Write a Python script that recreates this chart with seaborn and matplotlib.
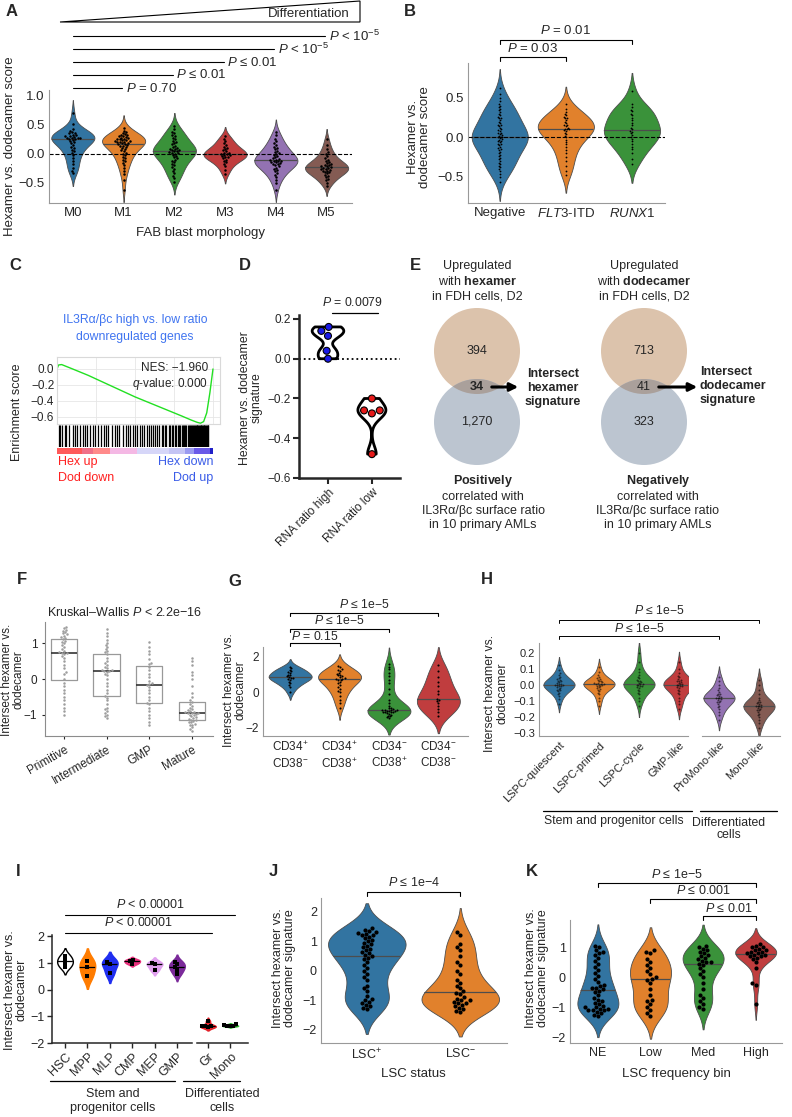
import warnings
import numpy as np
import pandas as pd
import matplotlib
matplotlib.use("Agg")
import matplotlib.pyplot as plt
import seaborn as sns
from matplotlib.patches import Circle, Polygon

warnings.filterwarnings("ignore")

# ---------------- data ----------------
# A: FAB blast morphology
fab_names = ["M0", "M1", "M2", "M3", "M4", "M5"]
fab_m0 = [0.70, 0.52, 0.42, 0.40, 0.38, 0.36, 0.35, 0.33, 0.32, 0.31, 0.30, 0.29, 0.28, 0.28, 0.27, 0.27,
          0.26, 0.25, 0.24, 0.22, 0.20, 0.18, 0.15, 0.12, 0.10, 0.07, 0.04, 0.01, -0.03, -0.08, -0.13,
          -0.18, -0.24, -0.29, -0.33]
fab_m1 = [0.45, 0.40, 0.38, 0.36, 0.34, 0.33, 0.32, 0.31, 0.30, 0.29, 0.28, 0.27, 0.26, 0.25, 0.25, 0.24,
          0.23, 0.22, 0.22, 0.21, 0.20, 0.20, 0.19, 0.18, 0.17, 0.16, 0.15, 0.14, 0.13, 0.12, 0.10, 0.08,
          0.06, 0.04, 0.02, 0.0, -0.02, -0.05, -0.08, -0.10, -0.13, -0.16, -0.20, -0.25, -0.30, -0.35,
          -0.45, -0.62]
fab_m2 = [0.48, 0.42, 0.38, 0.35, 0.32, 0.30, 0.28, 0.25, 0.22, 0.20, 0.18, 0.16, 0.14, 0.12, 0.10, 0.09,
          0.08, 0.07, 0.06, 0.05, 0.04, 0.03, 0.02, 0.01, 0.0, -0.02, -0.04, -0.06, -0.08, -0.10, -0.12,
          -0.15, -0.18, -0.20, -0.23, -0.26, -0.30, -0.34, -0.38, -0.42, -0.48]
fab_m3 = [0.30, 0.26, 0.22, 0.18, 0.15, 0.12, 0.10, 0.08, 0.06, 0.04, 0.02, 0.01, 0.0, -0.01, -0.02,
          -0.03, -0.04, -0.05, -0.06, -0.08, -0.10, -0.12, -0.15, -0.18, -0.22, -0.28, -0.35]
fab_m4 = [0.38, 0.32, 0.26, 0.22, 0.18, 0.15, 0.12, 0.10, 0.08, 0.05, 0.03, 0.01, 0.0, -0.02, -0.04,
          -0.06, -0.08, -0.09, -0.10, -0.11, -0.12, -0.12, -0.13, -0.14, -0.15, -0.16, -0.17, -0.18,
          -0.20, -0.22, -0.24, -0.26, -0.28, -0.30, -0.33, -0.36, -0.40, -0.45, -0.50, -0.62]
fab_m5 = [0.25, 0.15, 0.08, 0.03, 0.0, -0.04, -0.08, -0.10, -0.12, -0.14, -0.16, -0.18, -0.19, -0.20,
          -0.21, -0.22, -0.23, -0.24, -0.25, -0.26, -0.27, -0.28, -0.29, -0.30, -0.31, -0.32, -0.34,
          -0.36, -0.38, -0.40, -0.43, -0.46, -0.50, -0.55]
fab_scores = [fab_m0, fab_m1, fab_m2, fab_m3, fab_m4, fab_m5]
fab_pvals = ["$P$ = 0.70", "$P$ ≤ 0.01", "$P$ ≤ 0.01", "$P$ < 10$^{-5}$", "$P$ < 10$^{-5}$"]

# B: mutation status
mut_names = ["Negative", "FLT3-ITD", "RUNX1"]
mut_labels = ["Negative", "$\\mathit{FLT3}$-ITD", "$\\mathit{RUNX1}$"]
mut_neg = [0.62, 0.55, 0.50, 0.46, 0.42, 0.40, 0.38, 0.36, 0.34, 0.32, 0.30, 0.28, 0.26, 0.25, 0.24, 0.22,
           0.20, 0.18, 0.16, 0.15, 0.14, 0.12, 0.10, 0.09, 0.08, 0.06, 0.05, 0.04, 0.03, 0.02, 0.01, 0.0,
           0.0, -0.01, -0.02, -0.03, -0.04, -0.05, -0.06, -0.08, -0.09, -0.10, -0.12, -0.14, -0.15, -0.16,
           -0.18, -0.20, -0.22, -0.24, -0.26, -0.28, -0.30, -0.32, -0.34, -0.36, -0.38, -0.40, -0.42,
           -0.46, -0.50, -0.56]
mut_flt3 = [0.42, 0.36, 0.32, 0.30, 0.28, 0.26, 0.25, 0.24, 0.22, 0.20, 0.18, 0.16, 0.15, 0.14, 0.12, 0.11,
            0.10, 0.10, 0.09, 0.08, 0.06, 0.04, 0.02, 0.0, -0.03, -0.06, -0.09, -0.12, -0.16, -0.20,
            -0.25, -0.30, -0.36, -0.42, -0.48]
mut_runx1 = [0.58, 0.42, 0.38, 0.35, 0.33, 0.30, 0.28, 0.25, 0.22, 0.18, 0.15, 0.12, 0.10, 0.08, 0.07,
             0.05, 0.03, 0.0, -0.02, -0.05, -0.08, -0.12, -0.15, -0.20, -0.28, -0.34]
mut_scores = [mut_neg, mut_flt3, mut_runx1]

# C: GSEA running enrichment score
es_pos = [0.0, 0.01, 0.03, 0.10, 0.20, 0.30, 0.40, 0.50, 0.60, 0.70, 0.80, 0.86, 0.90, 0.92, 0.94,
          0.96, 0.98, 1.0]
es_val = [0.0, 0.05, 0.055, 0.0, -0.08, -0.17, -0.26, -0.35, -0.43, -0.51, -0.59, -0.64, -0.67, -0.68,
          -0.66, -0.55, -0.30, 0.0]
hit_pos = [0.01, 0.02, 0.035, 0.05, 0.06, 0.08, 0.10, 0.115, 0.13, 0.15, 0.165, 0.18, 0.19, 0.21, 0.23,
           0.245, 0.26, 0.28, 0.30, 0.315, 0.33, 0.35, 0.37, 0.385, 0.40, 0.42, 0.44, 0.455, 0.47, 0.49,
           0.50, 0.515, 0.53, 0.545, 0.56, 0.575, 0.59, 0.60, 0.615, 0.63, 0.64, 0.655, 0.67, 0.68, 0.69,
           0.70, 0.715, 0.725, 0.735, 0.745, 0.755, 0.765, 0.775, 0.785, 0.79, 0.80, 0.81, 0.815, 0.82,
           0.83, 0.84, 0.845, 0.85, 0.86, 0.865, 0.87, 0.88, 0.885, 0.89, 0.895, 0.90, 0.905, 0.91, 0.915,
           0.92, 0.925, 0.93, 0.935, 0.94, 0.945, 0.95, 0.955, 0.96, 0.965, 0.97]
bar_edges = [0.0, 0.16, 0.23, 0.34, 0.51, 0.72, 0.82, 0.88, 0.98, 1.0]
bar_colors = ["#ff5a5a", "#f07088", "#ff8a8a", "#f4b8e4", "#d6d6f8", "#c4c4f4", "#9a9af0", "#6a5ae8",
              "#2020c8"]

# D: RNA ratio groups
rna_names = ["RNA ratio high", "RNA ratio low"]
rna_high = [0.16, 0.14, 0.115, 0.04, 0.0]
rna_low = [-0.20, -0.26, -0.275, -0.26, -0.48]

# E: Venn counts (top only, overlap, bottom only)
hex_counts = ["394", "34", "1,270"]
dod_counts = ["713", "41", "323"]

# F: grade groups
grade_names = ["Primitive", "Intermediate", "GMP", "Mature"]
grade_prim = [1.45, 1.42, 1.38, 1.35, 1.32, 1.28, 1.25, 1.22, 1.18, 1.15, 1.12, 1.08, 1.05, 1.0, 0.95, 0.9,
              0.85, 0.8, 0.76, 0.74, 0.72, 0.7, 0.65, 0.6, 0.5, 0.4, 0.3, 0.2, 0.14, 0.0, -0.1, -0.2, -0.3,
              -0.4, -0.5, -0.6, -0.7, -0.8, -0.9, -1.0]
grade_inter = [1.4, 1.3, 1.2, 1.1, 1.0, 0.95, 0.9, 0.85, 0.8, 0.76, 0.7, 0.6, 0.5, 0.45, 0.4, 0.35, 0.3, 0.26,
               0.24, 0.22, 0.22, 0.2, 0.15, 0.1, 0.0, -0.1, -0.2, -0.3, -0.4, -0.48, -0.52, -0.6, -0.7,
               -0.8, -0.85, -0.9, -0.95, -1.0, -1.05, -1.1]
grade_gmp = [1.05, 0.9, 0.8, 0.7, 0.55, 0.45, 0.42, 0.35, 0.25, 0.15, 0.05, -0.05, -0.12, -0.15, -0.18,
             -0.22, -0.3, -0.4, -0.5, -0.6, -0.66, -0.7, -0.8, -0.9, -1.0, -1.1, -1.2, -1.3]
grade_mature = [0.6, 0.5, 0.4, 0.2, 0.1, 0.0, -0.2, -0.4, -0.5, -0.6, -0.65, -0.7, -0.75, -0.8, -0.85,
                -0.88, -0.9, -0.92, -0.94, -0.95, -0.95, -0.96, -0.98, -1.0, -1.02, -1.05, -1.08, -1.1,
                -1.12, -1.14, -1.16, -1.18, -1.2, -1.22, -1.25, -1.28, -1.3, -1.35, -1.4, -1.45]
grade_scores = [grade_prim, grade_inter, grade_gmp, grade_mature]

# G: CD34/CD38 fractions
cd_names = ["CD34+CD38-", "CD34+CD38+", "CD34-CD38+", "CD34-CD38-"]
cd_labels = ["CD34$^{+}$\nCD38$^{-}$", "CD34$^{+}$\nCD38$^{+}$", "CD34$^{-}$\nCD38$^{+}$",
             "CD34$^{-}$\nCD38$^{-}$"]
cd_pn = [1.45, 1.35, 1.28, 1.2, 1.15, 1.1, 1.0, 0.95, 0.9, 0.85, 0.82, 0.8, 0.75, 0.7, 0.6, 0.5, 0.4, 0.3, 0.0]
cd_pp = [1.5, 1.4, 1.3, 1.25, 1.2, 1.1, 1.05, 1.0, 0.95, 0.9, 0.85, 0.8, 0.78, 0.75, 0.72, 0.7, 0.6, 0.5,
         0.4, 0.3, 0.2, 0.1, 0.0, -0.2, -0.4, -0.6, -0.9]
cd_np = [1.6, 1.45, 1.3, 1.1, 0.9, 0.7, 0.5, 0.2, -0.1, -0.4, -0.6, -0.75, -0.85, -0.9, -0.95, -0.98,
         -1.0, -1.0, -1.0, -1.02, -1.05, -1.05, -1.08, -1.1, -1.1, -1.12, -1.15, -1.2, -1.25, -1.3,
         -1.35, -1.4, -1.45]
cd_nn = [1.55, 1.2, 0.85, 0.6, 0.35, 0.1, -0.1, -0.35, -0.42, -0.5, -0.6, -0.75, -0.95, -1.1, -1.3]
cd_scores = [cd_pn, cd_pp, cd_np, cd_nn]

# H: single-cell states
state_names = ["LSPC-quiescent", "LSPC-primed", "LSPC-cycle", "GMP-like", "ProMono-like", "Mono-like"]
state_q = [0.12, 0.09, 0.07, 0.06, 0.05, 0.04, 0.035, 0.03, 0.025, 0.02, 0.015, 0.01, 0.006, 0.003, 0.0,
           0.0, -0.003, -0.006, -0.01, -0.015, -0.02, -0.025, -0.03, -0.035, -0.04, -0.05, -0.06, -0.07,
           -0.09, -0.12]
state_p = [0.11, 0.08, 0.06, 0.05, 0.04, 0.035, 0.03, 0.025, 0.02, 0.015, 0.012, 0.01, 0.007, 0.004,
           0.002, 0.0, -0.003, -0.007, -0.01, -0.015, -0.02, -0.025, -0.03, -0.04, -0.05, -0.06, -0.08,
           -0.10, -0.13]
state_c = [0.20, 0.14, 0.10, 0.08, 0.06, 0.05, 0.04, 0.03, 0.025, 0.02, 0.015, 0.01, 0.005, 0.002, 0.0,
           -0.003, -0.006, -0.01, -0.015, -0.02, -0.03, -0.04, -0.05, -0.06, -0.08, -0.10, -0.13]
state_g = [0.14, 0.10, 0.07, 0.055, 0.045, 0.035, 0.03, 0.025, 0.02, 0.015, 0.01, 0.006, 0.003, 0.0,
           -0.003, -0.006, -0.01, -0.015, -0.02, -0.03, -0.04, -0.05, -0.06, -0.08, -0.10, -0.12, -0.15]
state_pm = [0.05, 0.02, 0.0, -0.02, -0.035, -0.045, -0.055, -0.06, -0.065, -0.07, -0.075, -0.08, -0.08,
            -0.085, -0.09, -0.095, -0.10, -0.105, -0.11, -0.12, -0.13, -0.14, -0.15, -0.17, -0.19, -0.22]
state_m = [0.03, 0.0, -0.03, -0.06, -0.08, -0.095, -0.105, -0.11, -0.115, -0.12, -0.125, -0.13, -0.13,
           -0.135, -0.14, -0.145, -0.15, -0.155, -0.16, -0.17, -0.18, -0.19, -0.20, -0.22, -0.24, -0.27]
state_scores = [state_q, state_p, state_c, state_g, state_pm, state_m]

# I: sorted normal hematopoietic populations
cell_names = ["HSC", "MPP", "MLP", "CMP", "MEP", "GMP", "Gr", "Mono"]
cell_colors = ["#ffffff", "#ff7c00", "#1f2ef0", "#e8307c", "#e0a0ee", "#7b2a9a", "#e32028", "#2fc22f"]
cell_scores = [[1.28, 1.12, 1.0, 0.85], [1.08, 0.85, 0.5], [1.05, 0.98, 0.62], [1.12, 1.06, 0.98],
               [1.0, 0.95, 0.75], [1.05, 0.95, 0.85, 0.75, 0.58],
               [-1.18, -1.35, -1.38, -1.40, -1.38], [-1.30, -1.33, -1.36, -1.38, -1.35]]

# J: LSC status
lsc_names = ["LSC+", "LSC-"]
lsc_labels = ["LSC$^{+}$", "LSC$^{-}$"]
lsc_pos = [1.45, 1.4, 1.35, 1.3, 1.28, 1.25, 1.22, 1.2, 1.15, 1.1, 1.05, 1.0, 0.95, 0.9, 0.85, 0.8, 0.75,
           0.7, 0.65, 0.6, 0.55, 0.5, 0.45, 0.4, 0.3, 0.2, 0.1, 0.0, -0.1, -0.2, -0.3, -0.5, -0.6, -0.7,
           -0.85, -0.95, -1.0, -1.05, -1.1, -1.15, -1.2, -1.25, -1.3]
lsc_neg = [1.3, 1.2, 0.9, 0.8, 0.7, 0.5, 0.3, 0.2, 0.0, -0.1, -0.3, -0.4, -0.5, -0.6, -0.7, -0.75, -0.8,
           -0.9, -0.95, -1.0, -1.0, -1.05, -1.1, -1.1, -1.15, -1.2, -1.25, -1.3, -1.35, -1.4]
lsc_scores = [lsc_pos, lsc_neg]

# K: LSC frequency bins
bin_names = ["NE", "Low", "Med", "High"]
bin_ne = [1.05, 1.0, 0.9, 0.85, 0.8, 0.75, 0.65, 0.55, 0.45, 0.35, 0.25, 0.15, 0.05, -0.05, -0.15, -0.25,
          -0.3, -0.35, -0.35, -0.4, -0.45, -0.5, -0.6, -0.7, -0.75, -0.8, -0.85, -0.9, -0.95, -1.0, -1.0,
          -1.05, -1.05, -1.1, -1.1, -1.1, -1.15, -1.2, -1.25, -1.3]
bin_low = [0.9, 0.85, 0.8, 0.6, 0.5, 0.4, 0.3, 0.2, 0.1, 0.0, -0.05, -0.1, -0.2, -0.4, -0.6, -0.75, -0.8,
           -0.9, -1.0, -1.1, -1.2, -1.3]
bin_med = [1.05, 1.0, 0.95, 0.9, 0.85, 0.8, 0.75, 0.7, 0.65, 0.6, 0.55, 0.5, 0.5, 0.45, 0.4, 0.3, 0.2,
           0.1, 0.0, -0.2, -0.4, -0.6, -0.7, -0.8, -0.9, -1.0, -1.05]
bin_high = [1.1, 1.05, 1.0, 1.0, 0.95, 0.9, 0.9, 0.85, 0.85, 0.8, 0.8, 0.75, 0.75, 0.7, 0.7, 0.65, 0.6,
            0.5, 0.3, -0.2, -0.25, -0.9]
bin_scores = [bin_ne, bin_low, bin_med, bin_high]

# ---------------- style ----------------
sns.set_style("ticks")
plt.rcParams["font.family"] = ["Liberation Sans", "DejaVu Sans"]
plt.rcParams.update({
    "mathtext.fontset": "custom",
    "mathtext.rm": "Liberation Sans",
    "mathtext.it": "Liberation Sans:italic",
    "mathtext.bf": "Liberation Sans:bold",
    "axes.linewidth": 0.8,
})
TAB = sns.color_palette("tab10")
W, H = 792, 1117
fig = plt.figure(figsize=(W / 100, H / 100), dpi=100)


def add_ax(x0, y0, x1, y1):
    return fig.add_axes([x0 / W, 1 - y1 / H, (x1 - x0) / W, (y1 - y0) / H])


def ftext(x, y, s, fs=9, **kw):
    kw.setdefault("ha", "center")
    kw.setdefault("va", "center")
    fig.text(x / W, 1 - y / H, s, fontsize=fs, **kw)


def fline(xs, ys, lw=0.9, **kw):
    fig.add_artist(plt.Line2D([x / W for x in xs], [1 - y / H for y in ys], color="k", lw=lw, **kw))


def yfrac(ax, ypix):
    p = ax.get_position()
    return (1 - ypix / H - p.y0) / p.height


def bracket(ax, x1, x2, ypix, label, ytxt, tick=4, fs=9, lw=0.8):
    tr = ax.get_xaxis_transform()
    f = yfrac(ax, ypix)
    t = tick / (ax.get_position().height * H)
    ax.plot([x1, x1, x2, x2], [f - t, f, f, f - t], transform=tr, clip_on=False, color="k", lw=lw)
    ax.text((x1 + x2) / 2, yfrac(ax, ytxt), label, transform=tr, ha="center", va="center", fontsize=fs)


def long_df(names, groups):
    return pd.DataFrame({"g": np.repeat(names, [len(v) for v in groups]),
                         "v": np.concatenate([np.asarray(v, float) for v in groups])})


def violins(ax, names, groups, colors, width=0.85, size=2.0, pt_color="k", alpha=1.0,
            edge="0.3", lw=0.6, med_color="0.3", sat=0.75, marker="o"):
    df = long_df(names, groups)
    sns.violinplot(data=df, x="g", y="v", hue="g", order=names, hue_order=names,
                   palette=list(colors), inner=None, linewidth=lw, linecolor=edge,
                   density_norm="width", width=width, saturation=sat, legend=False, ax=ax)
    polys = list(ax.collections)
    for i, (poly, vals) in enumerate(zip(polys, groups)):
        ln, = ax.plot([i - 0.5, i + 0.5], [np.median(vals)] * 2, color=med_color, lw=0.9)
        ln.set_clip_path(poly.get_paths()[0], poly.get_transform())
    sns.swarmplot(data=df, x="g", y="v", order=names, color=pt_color, size=size,
                  alpha=alpha, marker=marker, ax=ax)
    return polys


def style(ax, fs=9, spine="0.6", ticks=0):
    sns.despine(ax=ax)
    for s in ("left", "bottom"):
        ax.spines[s].set_color(spine)
    ax.tick_params(labelsize=fs, length=ticks, pad=3)
    ax.set_xlabel("")
    ax.set_ylabel("")


# ---------------- A ----------------
axA = add_ax(49, 90, 352, 203)
violins(axA, fab_names, fab_scores, TAB[:6], width=0.85, size=1.8)
axA.axhline(0, ls="--", color="k", lw=0.8)
axA.set_xlim(-0.47, 5.5)
axA.set_ylim(-0.85, 1.1)
axA.set_yticks([-0.5, 0, 0.5, 1.0])
style(axA, 9.5)
trA = axA.get_xaxis_transform()
for k, lab in enumerate(fab_pvals, start=1):
    f = yfrac(axA, 101 - 13 * k)
    axA.plot([0, k - 0.03], [f, f], transform=trA, clip_on=False, color="k", lw=0.8)
    axA.text(k + 0.04, f, lab, transform=trA, ha="left", va="center", fontsize=9.5)
fig.add_artist(Polygon([[60 / W, 1 - 22 / H], [360 / W, 1 - 1 / H], [360 / W, 1 - 22 / H]],
                       closed=True, fill=False, edgecolor="k", lw=0.8, transform=fig.transFigure))
ftext(350, 14, "Differentiation", 9.5, ha="right")
ftext(10, 146, "Hexamer vs. dodecamer score", 9.5, rotation=90)
ftext(200, 233, "FAB blast morphology", 9.5)

# ---------------- B ----------------
axB = add_ax(468, 63, 665, 203)
violins(axB, mut_names, mut_scores, TAB[:3], width=0.85, size=1.3)
axB.axhline(0, ls="--", color="k", lw=0.8)
axB.set_xlim(-0.48, 2.5)
axB.set_ylim(-0.83, 0.94)
axB.set_yticks([-0.5, 0, 0.5])
style(axB, 9.5)
axB.set_xticks(range(3))
axB.set_xticklabels(mut_labels)
bracket(axB, 0, 1, 57, "$P$ = 0.03", 49, tick=4, fs=9.5)
bracket(axB, 0, 2, 40, "$P$ = 0.01", 31, tick=4, fs=9.5)
ftext(419, 137, "Hexamer vs.\ndodecamer score", 9.5, rotation=90, linespacing=1.0)

# ---------------- C ----------------
axC = add_ax(57, 357, 220, 424)
axC.plot(es_pos, es_val, color="#22e022", lw=1.0)
axC.set_xlim(0, 1.045)
axC.set_ylim(-0.69, 0.15)
axC.set_yticks([0, -0.2, -0.4, -0.6])
axC.set_xticks([0.25, 0.5, 0.75, 1.0])
axC.set_xticklabels([])
axC.grid(True, color="0.9", lw=0.6)
for s in axC.spines.values():
    s.set_color("0.85")
axC.tick_params(labelsize=8.5, length=0, pad=2)
ftext(208, 368, "NES: −1.960", 8.5, ha="right")
ftext(208, 384, "$q$-value: 0.000", 8.5, ha="right")
axBC = add_ax(57, 425, 213, 447)
axBC.vlines(hit_pos, 0, 1, color="k", lw=0.9)
axBC.set_xlim(0, 1)
axBC.set_ylim(0, 1)
axBC.axis("off")
axCB = add_ax(57, 448, 213, 454)
for a, b, c in zip(bar_edges[:-1], bar_edges[1:], bar_colors):
    axCB.axvspan(a, b, color=c, lw=0)
axCB.set_xlim(0, 1)
axCB.axis("off")
ftext(135, 320, "IL3Rα/βc high vs. low ratio", 8.8, color="#3f74f0")
ftext(135, 337, "downregulated genes", 8.8, color="#3f74f0")
ftext(58, 462, "Hex up", 9, ha="left", color="#ff2020")
ftext(58, 478, "Dod down", 9, ha="left", color="#ff2020")
ftext(213, 462, "Hex down", 9, ha="right", color="#3a5ce8")
ftext(213, 478, "Dod up", 9, ha="right", color="#3a5ce8")
ftext(17, 412, "Enrichment score", 9, rotation=90)

# ---------------- D ----------------
axD = add_ax(299, 315, 400, 478)
dfD = long_df(rna_names, [rna_high, rna_low])
sns.violinplot(data=dfD, x="g", y="v", order=rna_names, fill=False, color="k", linewidth=2.0,
               cut=0, inner=None, width=0.72, bw_adjust=0.5, ax=axD)
sns.swarmplot(data=dfD, x="g", y="v", hue="g", order=rna_names, hue_order=rna_names,
              palette=["#1a1ae6", "#e61a1a"], size=5, edgecolor="k", linewidth=0.8, legend=False, ax=axD)
axD.axhline(0, ls=":", color="k", lw=1.3)
axD.set_xlim(-0.66, 1.64)
axD.set_ylim(-0.6, 0.22)
axD.set_yticks([0.2, 0, -0.2, -0.4, -0.6])
sns.despine(ax=axD)
for s in ("left", "bottom"):
    axD.spines[s].set_linewidth(1.8)
axD.tick_params(labelsize=8.5, length=4, width=1.5, pad=2)
axD.set_xlabel("")
axD.set_ylabel("")
axD.set_xticks([0, 1])
axD.set_xticklabels(rna_names, rotation=45, ha="right", rotation_mode="anchor")
fline([332, 378], [313, 313])
ftext(353, 302, "$P$ = 0.0079", 8.8)
ftext(251, 398, "Hexamer vs. dodecamer\nsignature", 8.8, rotation=90, linespacing=1.0)

# ---------------- E ----------------
axE = add_ax(400, 250, 792, 540)
axE.set_xlim(400, 792)
axE.set_ylim(540, 250)
axE.axis("off")
for cx, counts, bold, title, bottom, bottom_x, arrow_end in [
        (477, hex_counts, True, "$\\mathbf{hexamer}$", "$\\mathbf{Positively}$", 483, 521),
        (644, dod_counts, False, "$\\mathbf{dodecamer}$", "$\\mathbf{Negatively}$", 658, 700)]:
    axE.add_patch(Circle((cx, 351), 43, color="#dcc3ac", lw=0))
    low = Circle((cx, 422), 43, color="#bcc5d0", lw=0)
    axE.add_patch(low)
    over = Circle((cx, 351), 43, color="#aaa09b", lw=0)
    axE.add_patch(over)
    over.set_clip_path(low)
    axE.text(cx, 351, counts[0], ha="center", va="center", fontsize=9)
    axE.text(cx, 387, counts[1], ha="center", va="center", fontsize=9,
             fontweight="bold" if bold else "normal")
    axE.text(cx, 422, counts[2], ha="center", va="center", fontsize=9)
    axE.annotate("", xy=(arrow_end, 387), xytext=(cx + 12, 387),
                 arrowprops=dict(arrowstyle="-|>", lw=2.2, color="k", mutation_scale=12))
    ftext(cx, 281, "Upregulated\nwith " + title + "\nin FDH cells, D2", 9, linespacing=1.3)
    ftext(bottom_x, 502, bottom + "\ncorrelated with\nIL3Rα/βc surface ratio\nin 10 primary AMLs", 9,
          linespacing=1.25)
ftext(553, 388, "Intersect\nhexamer\nsignature", 9, fontweight="bold", linespacing=1.2)
ftext(700, 386, "Intersect\ndodecamer\nsignature", 9, fontweight="bold", ha="left", linespacing=1.2)

# ---------------- F ----------------
axF = add_ax(45, 622, 213, 736)
dfF = long_df(grade_names, grade_scores)
sns.swarmplot(data=dfF, x="g", y="v", order=grade_names, color="0.62", size=1.8, ax=axF)
sns.boxplot(data=dfF, x="g", y="v", order=grade_names, fill=False, color="0.6", width=0.62,
            showfliers=False, whis=0, showcaps=False, linewidth=0.9,
            medianprops={"color": "0.2", "linewidth": 1.2}, ax=axF)
axF.set_xlim(-0.45, 3.5)
axF.set_ylim(-1.6, 1.6)
axF.set_yticks([-1, 0, 1])
style(axF, 8.5, spine="0.55", ticks=2.5)
axF.set_xticks(range(4))
axF.set_xticklabels(grade_names, rotation=30, ha="right", rotation_mode="anchor")
ftext(125, 612, "Kruskal–Wallis $P$ < 2.2e−16", 9)
ftext(13, 680, "Intersect hexamer vs.\ndodecamer", 8.5, rotation=90, linespacing=1.0)

# ---------------- G ----------------
axG = add_ax(263, 647, 468, 736)
violins(axG, cd_names, cd_scores, TAB[:4], width=0.87, size=1.5)
axG.set_xlim(-0.55, 3.6)
axG.set_ylim(-2.45, 2.55)
axG.set_yticks([-2, 0, 2])
style(axG, 8.5)
axG.set_xticks(range(4))
axG.set_xticklabels(cd_labels, linespacing=1.3)
bracket(axG, 0, 1, 643, "$P$ = 0.15", 636, tick=3, fs=8.8)
bracket(axG, 0, 2, 629, "$P$ ≤ 1e−5", 620, tick=3, fs=8.8)
bracket(axG, 0, 3, 613, "$P$ ≤ 1e−5", 604, tick=3, fs=8.8)
ftext(235, 690, "Intersect hexamer vs.\ndodecamer", 8.6, rotation=90, linespacing=1.0)

# ---------------- H ----------------
axH1 = add_ax(539, 643, 688, 736)
axH2 = add_ax(702, 643, 780, 736)
violins(axH1, state_names[:4], state_scores[:4], TAB[:4], width=0.78, size=1.4, alpha=0.6)
violins(axH2, state_names[4:], state_scores[4:], TAB[4:6], width=0.78, size=1.4, alpha=0.6)
for ax in (axH1, axH2):
    ax.set_ylim(-0.32, 0.26)
    style(ax, 8)
axH1.set_xlim(-0.5, 3.225)
axH2.set_xlim(-0.425, 1.525)
axH1.set_yticks([0.2, 0.1, 0, -0.1, -0.2, -0.3])
axH2.set_yticks([])
axH2.spines["left"].set_visible(False)
axH1.set_xticks(range(4))
axH1.set_xticklabels(state_names[:4], rotation=45, ha="right", rotation_mode="anchor")
axH2.set_xticks(range(2))
axH2.set_xticklabels(state_names[4:], rotation=45, ha="right", rotation_mode="anchor")
bracket(axH1, 0, 4, 636, "$P$ ≤ 1e−5", 628, tick=3, fs=8.8, lw=0.7)
bracket(axH1, 0, 5, 620, "$P$ ≤ 1e−5", 611, tick=3, fs=8.8, lw=0.7)
fline([543, 692], [811, 811])
fline([700, 777], [811, 811])
ftext(614, 821, "Stem and progenitor cells", 8.8)
ftext(729, 829, "Differentiated\ncells", 8.8, linespacing=1.1)
ftext(496, 693, "Intersect hexamer vs.\ndodecamer", 8.8, rotation=90, linespacing=1.0)

# ---------------- I ----------------
axI1 = add_ax(52, 935, 192, 1043)
axI2 = add_ax(197, 935, 248, 1043)
for ax, sl in ((axI1, slice(0, 6)), (axI2, slice(6, 8))):
    polys = violins(ax, cell_names[sl], cell_scores[sl], cell_colors[sl], width=0.7, size=2.2,
                    edge="k", lw=1.0, med_color="k", sat=1, marker="s")
    for poly, c in zip(polys, cell_colors[sl]):
        if c != "#ffffff":
            poly.set_edgecolor(c)
    ax.set_ylim(-2, 2.05)
    sns.despine(ax=ax)
    for s in ("left", "bottom"):
        ax.spines[s].set_linewidth(1.1)
    ax.tick_params(labelsize=9, length=3.5, width=1.0, pad=2)
    ax.set_xlabel("")
    ax.set_ylabel("")
    ax.set_xticks(range(sl.stop - sl.start))
    ax.set_xticklabels(cell_names[sl], rotation=45, ha="right", rotation_mode="anchor")
axI1.set_xlim(-0.58, 5.67)
axI2.set_xlim(-0.49, 1.79)
axI1.set_yticks([-2, -1, 0, 1, 2])
axI2.set_yticks([])
axI2.spines["left"].set_visible(False)
bracket(axI1, 0, 6.55, 933, "$P$ < 0.00001", 923, tick=0, fs=9)
bracket(axI1, 0, 7.6, 915, "$P$ < 0.00001", 905, tick=0, fs=9)
fline([50, 175], [1081, 1081])
fline([183, 240], [1081, 1081])
ftext(113, 1101, "Stem and\nprogenitor cells", 9, linespacing=1.2)
ftext(222, 1101, "Differentiated\ncells", 9, linespacing=1.2)
ftext(16, 990, "Intersect hexamer vs.\ndodecamer", 9, rotation=90, linespacing=1.0)

# ---------------- J ----------------
axJ = add_ax(321, 898, 507, 1043)
violins(axJ, lsc_names, lsc_scores, TAB[:2], width=0.83, size=3.0)
axJ.set_xlim(-0.49, 1.5)
axJ.set_ylim(-2.45, 2.47)
axJ.set_yticks([-2, -1, 0, 1, 2])
style(axJ, 9)
axJ.set_xticks(range(2))
axJ.set_xticklabels(lsc_labels)
bracket(axJ, 0, 1, 892, "$P$ ≤ 1e−4", 883, tick=4, fs=9)
ftext(413, 1074, "LSC status", 9.5)
ftext(284, 968, "Intersect hexamer vs.\ndodecamer signature", 9, rotation=90, linespacing=1.0)

# ---------------- K ----------------
axK = add_ax(570, 920, 782, 1043)
violins(axK, bin_names, bin_scores, TAB[:4], width=0.78, size=3.0)
axK.set_xlim(-0.53, 3.5)
axK.set_ylim(-2.2, 1.9)
axK.set_yticks([-2, -1, 0, 1])
style(axK, 9)
bracket(axK, 0, 3, 883, "$P$ ≤ 1e−5", 875, tick=4, fs=9)
bracket(axK, 1, 3, 899, "$P$ ≤ 0.001", 891, tick=4, fs=9)
bracket(axK, 2, 3, 916, "$P$ ≤ 0.01", 908, tick=4, fs=9)
ftext(676, 1074, "LSC frequency bin", 9.5)
ftext(537, 968, "Intersect hexamer vs.\ndodecamer signature", 9, rotation=90, linespacing=1.0)

# ---------------- panel letters ----------------
for letter, x, y in [("A", 12, 12), ("B", 410, 12), ("C", 15, 265), ("D", 245, 265), ("E", 415, 265),
                     ("F", 22, 580), ("G", 235, 582), ("H", 487, 580), ("I", 18, 872), ("J", 273, 872),
                     ("K", 532, 872)]:
    ftext(x, y, letter, 12, fontweight="bold")

fig.savefig("out.png", dpi=100)
